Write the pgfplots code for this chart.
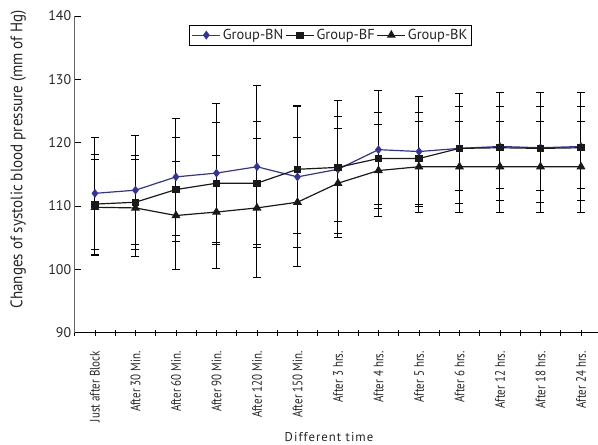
\documentclass[border=0pt]{standalone}
\usepackage{fontspec}
\setmainfont{PT Sans}
\newfontfamily\narrow[FakeStretch=0.8]{PT Sans}
\newfontfamily\ynarrow[FakeStretch=0.9]{PT Sans}
\usepackage{pgfplots}
\pgfplotsset{compat=1.18}
\usepackage{pgfplotstable}
\definecolor{bnblue}{RGB}{51,51,160}
\definecolor{axgray}{RGB}{100,100,100}

\pgfplotstableread{
x y e
0 112.0 8.85
1 112.5 8.6
2 114.6 9.2
3 115.2 11.0
4 116.2 12.8
5 114.6 11.1
6 115.8 8.3
7 118.9 9.3
8 118.6 8.7
9 119.1 8.7
10 119.4 8.5
11 119.2 8.7
12 119.4 8.5
}\bn
\pgfplotstableread{
x y e
0 110.3 7.9
1 110.6 7.4
2 112.6 8.2
3 113.6 9.6
4 113.6 9.7
5 115.8 10.1
6 116.1 10.5
7 117.5 7.3
8 117.5 7.3
9 119.1 6.6
10 119.2 6.5
11 119.1 6.6
12 119.2 6.5
}\bf
\pgfplotstableread{
x y e
0 109.8 7.6
1 109.7 7.7
2 108.5 8.6
3 109.05 8.85
4 109.7 11.0
5 110.6 10.2
6 113.6 8.6
7 115.6 7.2
8 116.2 7.2
9 116.2 7.2
10 116.2 7.2
11 116.2 7.2
12 116.2 7.2
}\bk

\begin{document}
\begin{tikzpicture}
\path[use as bounding box] (-74.7bp,-112.3bp) rectangle (523.3bp,332.7bp);
\begin{axis}[
  scale only axis,
  width=523.3bp, height=316.7bp,
  xmin=-0.5, xmax=12.42,
  ymin=90, ymax=140,
  axis x line*=bottom,
  axis y line*=left,
  x axis line style={black, line width=0.8pt, -},
  y axis line style={axgray, line width=1.4pt, -},
  xtick={0,...,12},
  minor xtick={-0.5,0.5,...,12.5},
  xticklabels={Just after Block,After 30 Min.,After 60 Min.,After 90 Min.,After 120 Min.,After 150 Min.,After 3 hrs.,After 4 hrs.,After 5 hrs.,After 6 hrs.,After 12 hrs.,After 18 hrs.,After 24 hrs.},
  xtick align=center,
  major tick length=6bp,
  minor tick length=6bp,
  every tick/.style={black, line width=0.8pt},
  minor tick style={black, line width=0.8pt},
  xticklabel style={yshift=-12bp, rotate=90, anchor=east, font=\narrow\fontsize{13.8}{14}\selectfont, text=black!85},
  ytick={90,100,...,140},
  ytick style={black, line width=0.7pt},
  yticklabel style={font=\fontsize{14}{15}\selectfont, text=black!85},
  /pgf/number format/assume math mode=true,
  xlabel={\addfontfeatures{LetterSpace=8}Different time},
  xlabel style={at={(axis description cs:0.486,-0.329)}, anchor=center, font=\fontsize{12.8}{14}\selectfont, text=black!85},
  ylabel={Changes of systolic blood pressure (mm of Hg)},
  ylabel style={at={(axis description cs:-0.108,0.548)}, anchor=center, font=\ynarrow\fontsize{16.8}{17}\selectfont, text=black!85},
  legend columns=3,
  legend style={at={(axis description cs:0.489,0.972)}, anchor=north, draw=black, line width=0.8pt,
    font=\fontsize{14.5}{15}\selectfont, text=black!85, inner sep=2pt,
    /tikz/every even column/.append style={column sep=0pt}},
  legend image code/.code={\draw[mark repeat=2,mark phase=2] plot coordinates {(0bp,0bp) (14bp,0bp) (28bp,0bp)};},
  error bars/error bar style={black, line width=1pt},
  error bars/error mark options={rotate=90, mark size=4bp, line width=1pt, black},
  clip=false,
]
\addplot[bnblue, line width=1.2pt, mark=diamond*, mark size=3.5bp, mark options={fill=bnblue, solid},
  error bars/.cd, y dir=both, y explicit] table[x=x, y=y, y error=e]{\bn};
\addlegendentry{Group-BN}
\addplot[black!90, line width=1.2pt, mark=square*, mark size=3bp, mark options={fill=black!90, solid},
  error bars/.cd, y dir=both, y explicit] table[x=x, y=y, y error=e]{\bf};
\addlegendentry{Group-BF}
\addplot[black!90, line width=1.2pt, mark=triangle*, mark size=4bp, mark options={fill=black!90, solid},
  error bars/.cd, y dir=both, y explicit] table[x=x, y=y, y error=e]{\bk};
\addlegendentry{Group-BK}
\end{axis}
\end{tikzpicture}
\end{document}
